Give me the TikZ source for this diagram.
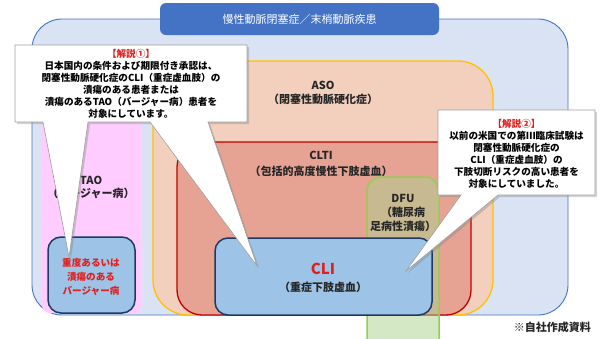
\documentclass[tikz,border=0pt]{standalone}
\usepackage{fontspec}
\setmainfont{Noto Sans CJK JP}
\usetikzlibrary{
    shadows
}
\definecolor{outerfill}{HTML}{DAE3F3}
\definecolor{outerline}{HTML}{4472C4}
\definecolor{taopink}{HTML}{FFCCFF}
\definecolor{asofill}{HTML}{F3CFBD}
\definecolor{asoline}{HTML}{FFC000}
\definecolor{cltifill}{HTML}{E6A394}
\definecolor{cltiline}{HTML}{C00000}
\definecolor{dfuline}{HTML}{92D050}
\definecolor{dfufill}{HTML}{A9D18E}
\definecolor{boxblue}{HTML}{9DC3E6}
\definecolor{boxnavy}{HTML}{1F3864}
\definecolor{notered}{HTML}{E0201E}
\definecolor{labelgray}{HTML}{262626}
\tikzset{
    bluebox/.style={
        draw=boxnavy,
        fill=boxblue,
        line width=1.5pt,
        rounded corners=13pt
    },
    balloon/.style={
        draw=gray!75,
        fill=white,
        line width=0.6pt,
        drop shadow={shadow xshift=2pt, shadow yshift=-2pt, opacity=0.35}
    },
    lbl/.style={
        align=center,
        inner sep=0pt,
        text=labelgray,
        font=\bfseries\fontsize{11}{14}\selectfont
    },
    note/.style={
        align=center,
        inner sep=0pt,
        text=black,
        font=\bfseries\fontsize{9.6}{12}\selectfont
    }
}

\begin{document}
\begin{tikzpicture}[
    x=1pt,
    y=-1pt
]
    \useasboundingbox (0,0) rectangle (600,338);

    % Bereiche
    \draw[fill=outerfill, draw=outerline, line width=0.9pt, rounded corners=30pt]
        (32,19) rectangle (568,315);
    \node[fill=outerline, rounded corners=6pt, minimum width=279pt, minimum height=32pt,
          text=white, font=\fontsize{11}{13}\selectfont] (title) at (299.5,19)
        {慢性動脈閉塞症／末梢動脈疾患};
    \fill[taopink, rounded corners=8pt] (42,100) rectangle (142,313);
    \draw[bluebox] (48,237) rectangle (135,313);
    \draw[fill=asofill, draw=asoline, line width=1.3pt, rounded corners=35pt]
        (153,61) rectangle (493,315);
    \draw[fill=cltifill, draw=cltiline, line width=1.3pt, rounded corners=25pt]
        (177,142) rectangle (471,315);
    \draw[fill=dfufill, fill opacity=0.5, draw=dfuline, line width=1.5pt, rounded corners=14pt]
        (367,177) rectangle (439,352);
    \draw[bluebox] (215,238) rectangle (432,315);

    % Beschriftungen
    \node[lbl] (aso)  at (323,93)  {ASO\\（閉塞性動脈硬化症）};
    \node[lbl, font=\bfseries\fontsize{11}{16}\selectfont] (clti) at (321,164) {CLTI\\（包括的高度慢性下肢虚血）};
    \node[lbl, font=\bfseries\fontsize{11}{13}\selectfont] (tao)  at (91,187)  {TAO\\（バージャー病）};
    \node[lbl] (dfu)  at (403,213) {DFU\\（糖尿病\\足病性潰瘍）};
    \node[lbl, text=notered, font=\bfseries\fontsize{15}{15}\selectfont] (cli) at (323,269) {CLI};
    \node[lbl] (clisub) at (323,287) {（重症下肢虚血）};
    \node[note, text=notered, font=\bfseries\fontsize{9.6}{14}\selectfont] (taosevere) at (91,277)
        {重度あるいは\\潰瘍のある\\バージャー病};
    \node[lbl, anchor=east] (source) at (591,327)
        {※自社作成資料};

    % Erläuterungen
    \coordinate (tipa) at (69,257);
    \coordinate (tipb) at (257,266);
    \coordinate (tipc) at (406,271);
    \draw[balloon] (15,45) -- (247,45) -- (247,122) -- (208,122) -- (tipb)
        -- (150,122) -- (88,122) -- (tipa) -- (43,122) -- (15,122) -- cycle;
    \node[note] (expl1) at (131,83.5)
        {{\color{notered}【解説①】}\\
         日本国内の条件および期限付き承認は、\\
         閉塞性動脈硬化症のCLI（重症虚血肢）の\\
         潰瘍のある患者または\\
         潰瘍のあるTAO（バージャー病）患者を\\
         対象にしています。};
    \draw[balloon] (438,110) -- (595,110) -- (595,195) -- (498,195) -- (tipc)
        -- (461,195) -- (438,195) -- cycle;
    \node[note] (expl2) at (516.5,153.5)
        {{\color{notered}【解説②】}\\
         以前の米国での第Ⅲ臨床試験は\\
         閉塞性動脈硬化症の\\
         CLI（重症虚血肢）の\\
         下肢切断リスクの高い患者を\\
         対象にしていました。};

\end{tikzpicture}
\end{document}
